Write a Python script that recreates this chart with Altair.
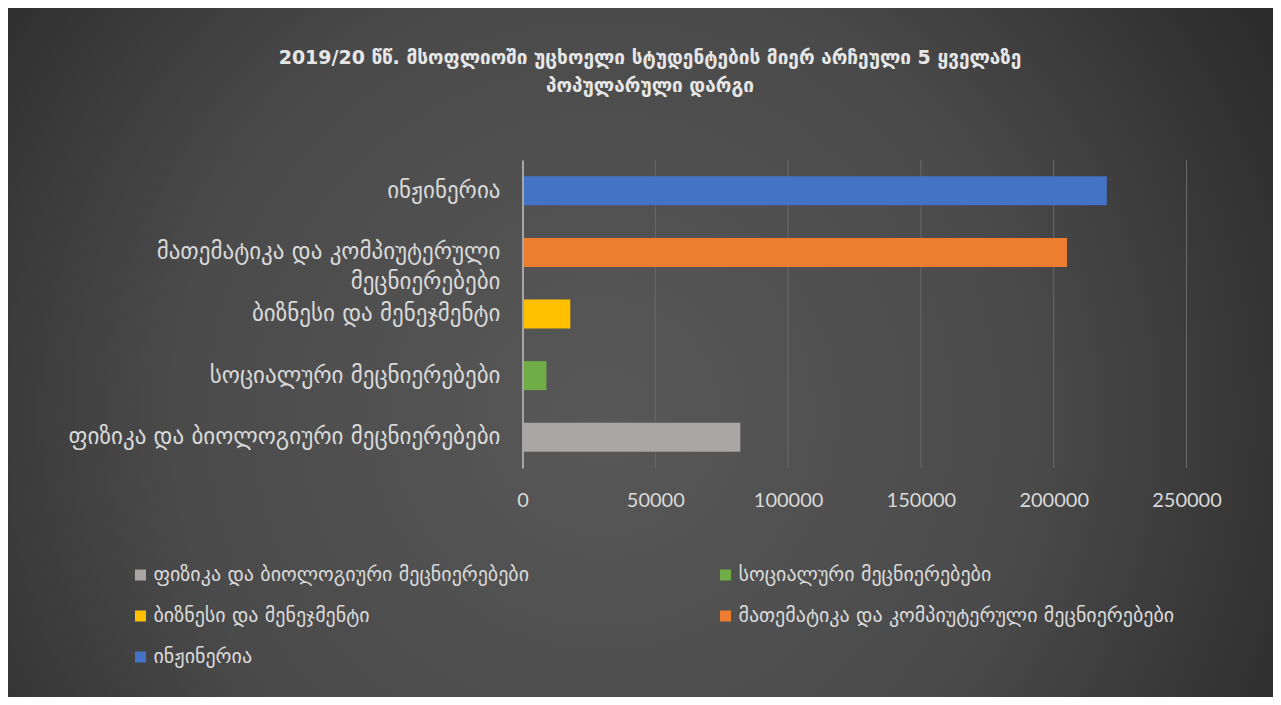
import altair as alt
import pandas as pd

categories = [
    "ინჟინერია",
    "მათემატიკა და კომპიუტერული მეცნიერებები",
    "ბიზნესი და მენეჯმენტი ",
    "სოციალური მეცნიერებები",
    "ფიზიკა და ბიოლოგიური მეცნიერებები",
]
values = [220000, 205000, 18000, 9000, 82000]
colors = ["#4472C4", "#ED7D31", "#FFC000", "#70AD47", "#A9A6A5"]
# legend is laid out column by column (3 rows): physics, business, engineering | social, math
legend_order = [4, 2, 0, 3, 1]
x_ticks = [0, 50000, 100000, 150000, 200000, 250000]
title_lines = [
    "2019/20 წწ. მსოფლიოში უცხოელი სტუდენტების მიერ არჩეული 5 ყველაზე",
    "პოპულარული დარგი",
]
# y labels as shown (the long one wrapped onto two lines)
y_labels = [
    "ინჟინერია",
    ["მათემატიკა და კომპიუტერული", "მეცნიერებები"],
    "ბიზნესი და მენეჯმენტი ",
    "სოციალური მეცნიერებები",
    "ფიზიკა და ბიოლოგიური მეცნიერებები",
]

df = pd.DataFrame({"category": categories, "value": values})
label_df = pd.DataFrame({"category": categories, "label": y_labels})
grid_df = pd.DataFrame({"tick": x_ticks})

W, H = 664, 308
PL, PT, PR, PB = 514.5, 152, 86.5, 229
geo_font = "DejaVu Sans"
txt = "#d9d9d9"

x_scale = alt.Scale(domain=[0, 250000], nice=False)
y_scale = alt.Scale(paddingInner=0.53, paddingOuter=0.265)
x_axis = alt.Axis(
    values=x_ticks, format="d", labelFont="Lato", labelFontSize=20,
    labelColor=txt, labelPadding=22, ticks=False, domain=False,
    grid=False, zindex=1, title=None, labelFlush=False, labelOverlap=False,
)
y_axis = alt.Axis(
    labels=False, ticks=False, domain=True, domainColor="#a6a6a6",
    domainWidth=2, grid=False, zindex=1, title=None,
)

bg = alt.Chart(alt.Data(values=[{}])).mark_rect(
    fill={
        "gradient": "radial",
        "x1": 0.47, "y1": 0.55, "r1": 0,
        "x2": 0.47, "y2": 0.55, "r2": 0.62,
        "stops": [
            {"offset": 0, "color": "#585858"},
            {"offset": 0.55, "color": "#4a4a4a"},
            {"offset": 1, "color": "#2a2a2a"},
        ],
    }
).encode(
    x=alt.value(-PL), x2=alt.value(W + PR),
    y=alt.value(-PT), y2=alt.value(H + PB),
)

grid = alt.Chart(grid_df).mark_rule(color="#6a6a6a", strokeWidth=1).encode(
    x=alt.X("tick:Q", scale=x_scale, axis=x_axis, title=None),
    y=alt.value(0), y2=alt.value(H),
)

bars = alt.Chart(df).mark_bar().encode(
    y=alt.Y("category:N", sort=categories, title=None, scale=y_scale, axis=y_axis),
    x=alt.X("value:Q", title=None, scale=x_scale, axis=x_axis),
    color=alt.Color(
        "category:N",
        scale=alt.Scale(
            domain=[categories[i] for i in legend_order],
            range=[colors[i] for i in legend_order],
        ),
        legend=alt.Legend(
            title=None, orient="none", legendX=-392, legendY=405,
            columns=2, columnPadding=186, rowPadding=21,
            symbolType="square", symbolSize=121, symbolStrokeWidth=0,
            labelFont=geo_font, labelFontSize=20, labelColor=txt,
            labelOffset=3, labelLimit=600,
        ),
    ),
)

ylabels = alt.Chart(label_df).mark_text(
    align="right", baseline="middle", font=geo_font, fontSize=23,
    color=txt, lineHeight=30, dx=-22,
).encode(
    y=alt.Y("category:N", sort=categories, title=None, scale=y_scale, axis=y_axis),
    x=alt.value(0),
    text=alt.Text("label:N"),
)

chart = alt.layer(bg, grid, bars, ylabels).properties(
    width=W, height=H,
    autosize=alt.AutoSizeParams(type="none"),
    padding={"left": PL, "top": PT, "right": PR, "bottom": PB},
    background="#404040",
    title=alt.TitleParams(
        text=title_lines, font=geo_font, fontSize=19, fontWeight="bold",
        color="#e6e6e6", anchor="middle", dx=-204.5, offset=-88, lineHeight=28,
    ),
).configure_view(stroke=None)

chart.save("out.html", embed_options={"renderer": "svg", "actions": False})
